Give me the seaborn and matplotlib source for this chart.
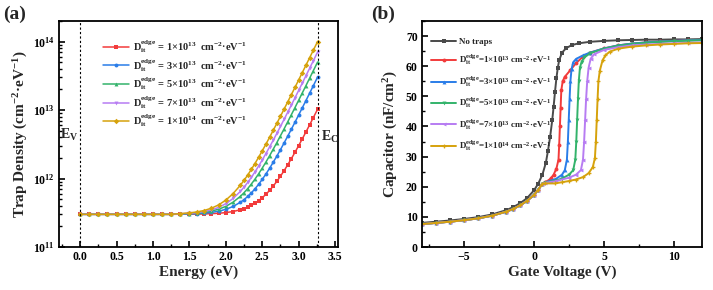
import matplotlib
matplotlib.use("Agg")
import matplotlib.pyplot as plt
import seaborn as sns
import numpy as np
from matplotlib.ticker import MultipleLocator, LogLocator, NullFormatter, FormatStrFormatter

# ---------------- data: panel (a) ----------------
energy_ev = [0.0, 0.125, 0.25, 0.375, 0.5, 0.625, 0.75, 0.875, 1.0, 1.125, 1.25,
             1.375, 1.5, 1.6, 1.7, 1.8, 1.9, 2.0, 2.1, 2.2,
             2.25, 2.3, 2.35, 2.4, 2.45, 2.5, 2.55, 2.6, 2.65, 2.7, 2.75, 2.8,
             2.85, 2.9, 2.95, 3.0, 3.05, 3.1, 3.15, 3.2, 3.26]
# trap density in units of 1e11 cm^-2 eV^-1
dit_1e13 = [3.0]*11 + [3.008, 3.02, 3.02, 3.04, 3.07, 3.11, 3.18, 3.30, 3.50,
                       3.64, 3.82, 4.06, 4.36, 4.74, 5.24, 5.87, 6.69, 7.74, 9.08, 10.81, 13.03,
                       15.87, 19.53, 24.2, 30.25, 38.0, 47.9, 60.7, 77.1, 103]
dit_3e13 = [3.0]*11 + [3.024, 3.05, 3.07, 3.12, 3.20, 3.33, 3.55, 3.91, 4.50,
                       4.92, 5.47, 6.17, 7.07, 8.23, 9.72, 11.61, 14.07, 17.22, 21.24, 26.4, 33.09,
                       41.6, 52.59, 66.6, 84.75, 108, 137.7, 176, 225.3, 303]
dit_5e13 = [3.0]*11 + [3.04, 3.08, 3.12, 3.21, 3.34, 3.56, 3.92, 4.52, 5.50,
                       6.21, 7.12, 8.29, 9.79, 11.71, 14.2, 17.35, 21.45, 26.7, 33.4, 42.1, 53.15,
                       67.4, 85.65, 109, 139.25, 178, 227.5, 291.5, 373.5, 503]
dit_7e13 = [3.0]*11 + [3.056, 3.11, 3.17, 3.29, 3.47, 3.78, 4.29, 5.12, 6.49,
                        7.49, 8.76, 10.40, 12.5, 15.19, 18.68, 23.1, 28.83, 36.2, 45.56, 57.7, 73.21,
                        93.1, 118.7, 151.4, 193.75, 248, 317.3, 407, 521.7, 703]
dit_1e14 = [3.0]*11 + [3.08, 3.15, 3.25, 3.41, 3.68, 4.11, 4.84, 6.03, 7.99,
                       9.41, 11.23, 13.57, 16.57, 20.4, 25.4, 31.7, 39.9, 50.4, 63.8, 81.1, 103.3,
                       131.7, 168.3, 215, 275.5, 353, 452, 580, 744, 1003]
a_labels = ["1", "3", "5", "7", "1"]
a_exps = ["13", "13", "13", "13", "14"]
E_V, E_C = 0.0, 3.26

# ---------------- data: panel (b) ----------------
v_dep = [-8, -7, -6, -5, -4, -3, -2, -1.5, -1, -0.5, 0, 0.3, 0.6]
c_dep = [7.6, 8.0, 8.4, 8.9, 9.5, 10.4, 11.7, 12.6, 13.8, 15.3, 17.3, 19.0, 21.0]

v_notrap = [-8, -7, -6, -5, -4, -3, -2, -1.5, -1, -0.5, 0, 0.3, 0.6, 0.85, 1.0, 1.15, 1.3, 1.4,
            1.5, 1.6, 1.7, 1.8, 2.0, 2.3, 2.7, 3.2, 4, 5, 6, 7, 8, 9, 10, 11, 12]
c_notrap = [8.0, 8.4, 8.8, 9.3, 9.9, 10.8, 12.2, 13.2, 14.5, 16.2, 18.8, 21.0, 24.0, 28.0, 32.0,
            36.5, 42.0, 46.5, 51.5, 56.0, 59.5, 62.0, 64.5, 66.0, 67.0, 67.6, 68.1, 68.4, 68.6,
            68.7, 68.8, 68.8, 68.9, 68.9, 69.0]

v_1e13 = [0.8, 1.0, 1.2, 1.4, 1.6, 1.75, 1.8, 1.85, 1.9, 1.95, 2.05, 2.2, 2.6, 3.0, 3.5, 4.0,
          5, 6, 7, 8, 9, 10, 11, 12]
c_1e13 = [21.6, 22.0, 22.8, 24.0, 26.0, 29, 34, 40, 46, 52, 55, 56.5, 58.7, 61.0, 63.2, 64.5,
          65.9, 66.9, 67.5, 67.9, 68.2, 68.4, 68.6, 68.7]
v_3e13 = [0.8, 1.2, 1.6, 2.0, 2.2, 2.35, 2.42, 2.48, 2.54, 2.6, 2.68, 2.8, 3.0, 3.5, 4.0,
          5, 6, 7, 8, 9, 10, 11, 12]
c_3e13 = [21.5, 22.0, 22.7, 24.0, 25.5, 29, 35, 42, 49, 55, 59, 61.3, 62.4, 63.6, 64.5,
          65.9, 66.9, 67.5, 67.9, 68.2, 68.4, 68.6, 68.7]
v_5e13 = [0.8, 1.5, 2.0, 2.5, 2.8, 2.95, 3.02, 3.08, 3.14, 3.2, 3.28, 3.4, 3.6, 4.0,
          5, 6, 7, 8, 9, 10, 11, 12]
c_5e13 = [21.4, 22.0, 22.7, 24.0, 25.5, 29, 35, 42, 49, 55, 59.5, 61.5, 62.9, 64.3,
          65.8, 66.8, 67.4, 67.8, 68.1, 68.3, 68.5, 68.6]
v_7e13 = [0.8, 1.5, 2.5, 3.0, 3.35, 3.5, 3.58, 3.65, 3.72, 3.8, 3.9, 4.05, 4.3,
          5, 6, 7, 8, 9, 10, 11, 12]
c_7e13 = [21.3, 21.8, 23.0, 24.0, 25.5, 29, 35, 42, 49, 55, 59.5, 62.5, 64.0,
          65.4, 66.3, 66.9, 67.2, 67.4, 67.6, 67.7, 67.9]
v_1e14 = [0.8, 1.5, 2.0, 2.5, 3.0, 3.5, 3.9, 4.2, 4.35, 4.42, 4.48, 4.54, 4.6, 4.7, 4.9,
          5.1, 5.4, 6, 7, 8, 9, 10, 11, 12]
c_1e14 = [21.1, 21.1, 21.5, 21.9, 22.4, 23.2, 24.5, 26.5, 29.5, 35, 42, 49, 55, 58.5, 62,
          63.6, 64.8, 65.8, 66.5, 66.9, 67.2, 67.4, 67.6, 67.7]

colors = ["#F23B3B", "#2A7DE8", "#33B36B", "#B77CF2", "#D6A20C"]
black = "#4A4A4A"

# ---------------- style ----------------
sns.set_theme(style="ticks")
plt.rcParams.update({
    "font.family": ["Liberation Serif", "DejaVu Serif"],
    "font.weight": "bold",
    "axes.labelweight": "bold",
    "mathtext.fontset": "custom",
    "mathtext.rm": "Liberation Serif:bold",
    "mathtext.it": "Liberation Serif:bold:italic",
    "mathtext.bf": "Liberation Serif:bold",
    "mathtext.default": "rm",
    "axes.linewidth": 1.3,
    "xtick.direction": "in",
    "ytick.direction": "in",
    "xtick.major.width": 1.2,
    "ytick.major.width": 1.2,
    "xtick.minor.width": 1.0,
    "ytick.minor.width": 1.0,
    "xtick.major.size": 4,
    "ytick.major.size": 4,
    "xtick.minor.size": 2.2,
    "ytick.minor.size": 2.2,
    "xtick.color": "black",
    "ytick.color": "black",
    "axes.edgecolor": "black",
})

fig = plt.figure(figsize=(7.13, 2.90), dpi=100)
ax1 = fig.add_axes([59/713, 43/290, 279/713, 226/290])
ax2 = fig.add_axes([422/713, 43/290, 280/713, 226/290])

# ---------------- panel (a) ----------------
markers_a = ["s", "o", "^", "v", "D"]
series_a = [dit_1e13, dit_3e13, dit_5e13, dit_7e13, dit_1e14]
for vals, col, mk, m, ex in zip(series_a, colors, markers_a, a_labels, a_exps):
    lab = (r"$\mathregular{D_{it}^{edge}}$ = " + m + r"×10$^{" + ex + r"}$  cm$^{-2}$·eV$^{-1}$")
    sns.lineplot(x=energy_ev, y=np.array(vals) * 1e11, ax=ax1, color=col, marker=mk,
                 markersize=2.8, markeredgewidth=0, linewidth=1.1, label=lab)
ax1.set_yscale("log")
ax1.set_xlim(-0.29, 3.54)
ax1.set_ylim(1e11, 2e14)
ax1.axvline(E_V, color="black", linestyle=(0, (2, 2)), linewidth=0.8)
ax1.axvline(E_C, color="black", linestyle=(0, (2, 2)), linewidth=0.8)
ax1.text(-0.03, 4.3e12, r"E$_\mathregular{V}$", ha="right", va="center", fontsize=10, fontweight="bold")
ax1.text(3.30, 4.0e12, r"E$_\mathregular{C}$", ha="left", va="center", fontsize=10, fontweight="bold")
ax1.xaxis.set_major_locator(MultipleLocator(0.5))
ax1.xaxis.set_minor_locator(MultipleLocator(0.25))
ax1.xaxis.set_major_formatter(FormatStrFormatter("%.1f"))
ax1.yaxis.set_major_locator(LogLocator(base=10, numticks=10))
ax1.yaxis.set_minor_locator(LogLocator(base=10, subs=np.arange(2, 10), numticks=20))
ax1.yaxis.set_minor_formatter(NullFormatter())
ax1.set_xlabel("Energy (eV)", fontsize=11, fontweight="bold", labelpad=2)
ax1.set_ylabel(r"Trap Density (cm$^{-2}$·eV$^{-1}$)", fontsize=11, fontweight="bold", labelpad=2)
ax1.tick_params(labelsize=8.5, pad=3)
for t in ax1.get_xticklabels() + ax1.get_yticklabels():
    t.set_fontweight("bold")
leg1 = ax1.legend(loc="upper left", bbox_to_anchor=(0.13, 0.955), frameon=False,
                  fontsize=7.5, handlelength=2.5, labelspacing=0.2, handletextpad=0.4,
                  borderpad=0.2)
fig.text(3/713, 1 - 14/290, "(a)", fontsize=14, fontweight="bold", va="center", ha="left")

# ---------------- panel (b) ----------------
markers_b = ["o", "^", "v", "<", "P"]
sns.lineplot(x=v_notrap, y=c_notrap, ax=ax2, color=black, marker="s", markersize=2.6,
             markeredgewidth=0, linewidth=1.4, label="No traps")
series_b = [(v_1e13, c_1e13), (v_3e13, c_3e13), (v_5e13, c_5e13), (v_7e13, c_7e13), (v_1e14, c_1e14)]
for (vv, cc), col, mk, m, ex in zip(series_b, colors, markers_b, a_labels, a_exps):
    lab = (r"$\mathregular{D_{it}^{edge}}$=" + m + r"×10$^{" + ex + r"}$ cm$^{-2}$·eV$^{-1}$")
    sns.lineplot(x=v_dep + vv, y=c_dep + cc, ax=ax2, color=col, marker=mk, markersize=2.8,
                 markeredgewidth=0, linewidth=1.4, label=lab)
ax2.set_xlim(-8, 12)
ax2.set_ylim(0, 75)
ax2.xaxis.set_major_locator(MultipleLocator(5))
ax2.xaxis.set_minor_locator(MultipleLocator(2.5))
ax2.yaxis.set_major_locator(MultipleLocator(10))
ax2.yaxis.set_minor_locator(MultipleLocator(5))
ax2.set_xlabel("Gate Voltage (V)", fontsize=11, fontweight="bold", labelpad=2)
ax2.set_ylabel(r"Capacitor (nF/cm$^{2}$)", fontsize=11, fontweight="bold", labelpad=4)
ax2.tick_params(labelsize=8.5, pad=3)
for t in ax2.get_xticklabels() + ax2.get_yticklabels():
    t.set_fontweight("bold")
leg2 = ax2.legend(loc="upper left", bbox_to_anchor=(0.01, 0.955), frameon=False,
                  fontsize=6.5, handlelength=2.8, labelspacing=0.72, handletextpad=0.3,
                  borderpad=0.2)
fig.text(371/713, 1 - 14/290, "(b)", fontsize=14, fontweight="bold", va="center", ha="left")

for ax in (ax1, ax2):
    for s in ax.spines.values():
        s.set_visible(True)
        s.set_linewidth(1.3)
        s.set_color("black")

fig.savefig("out.png", dpi=100)
